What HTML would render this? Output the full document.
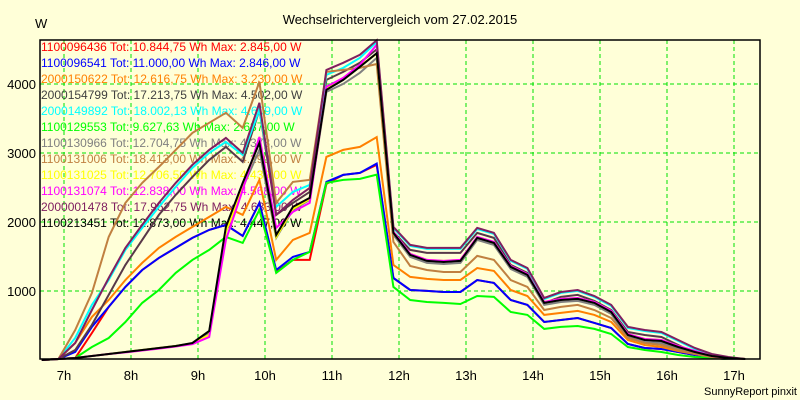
<!DOCTYPE html>
<html><head><meta charset="utf-8"><style>
body{margin:0;background:#ffffd8;}
svg{display:block;font-family:"Liberation Sans",sans-serif;}
</style></head><body>
<svg id="chart" width="800" height="400" viewBox="0 0 800 400">
<rect x="0" y="0" width="800" height="400" fill="#ffffd8"/>
<text x="400" y="24" text-anchor="middle" font-size="13" fill="#000">Wechselrichtervergleich vom 27.02.2015</text>
<text x="35" y="28" font-size="13" fill="#000">W</text>
<text x="797" y="395" text-anchor="end" font-size="11" fill="#000">SunnyReport pinxit</text>
<g id="grid"></g><g id="axes"></g><g id="legend"></g><g id="series"></g>
<rect x="40" y="40" width="720" height="319" fill="none" stroke="#000" stroke-width="1.5"/>
</svg>
<script>
const times=["06:40","06:55","07:10","07:25","07:40","07:55","08:10","08:25","08:40","08:55","09:10","09:25","09:40","09:55","10:10","10:25","10:40","10:55","11:10","11:25","11:40","11:55","12:10","12:25","12:40","12:55","13:10","13:25","13:40","13:55","14:10","14:25","14:40","14:55","15:10","15:25","15:40","15:55","16:10","16:25","16:40","16:55","17:10"];
const xTicks=[7,8,9,10,11,12,13,14,15,16,17];
const xTickLabels=["7h","8h","9h","10h","11h","12h","13h","14h","15h","16h","17h"];
const yTicks=[1000,2000,3000,4000];
const seriesNames=["1100096436","1100096541","2000150622","2000154799","2000149892","1100129553","1100130966","1100131006","1100131025","1100131074","2000001478","1100213451"];
const seriesTotals=["10.844,75","11.000,00","12.616,75","17.213,75","18.002,13","9.627,63","12.704,75","18.413,00","12.706,50","12.838,00","17.962,75","12.873,00"];
const seriesMax=["2.845,00","2.846,00","3.230,00","4.502,00","4.609,00","2.687,00","4.378,00","4.290,00","4.439,00","4.568,00","4.633,00","4.447,00"];
const seriesColors=["#ff0000","#0000ff","#ff8000","#404040","#00ffff","#00ff00","#808080","#c08040","#ffff00","#ff00ff","#802060","#000000"];
const lineColors=["#ff0000","#0000ff","#ff8000","#583848","#00ffff","#00ff00","#808080","#c08040","#ffff00","#ff00ff","#802060","#000000"];
const sRed=[0,15,29,392,769,1059,1305,1479,1624,1769,1885,1958,1798,2277,1276,1450,1450,2552,2683,2712,2828,1189,1015,1001,986,986,1160,1117,870,798,551,580,609,537,464,232,174,160,116,73,29,15,15];
const sBlue=[0,15,116,479,769,1059,1305,1479,1624,1769,1885,1958,1798,2277,1305,1494,1566,2581,2683,2712,2846,1189,1015,1001,986,986,1160,1117,870,798,551,580,609,537,464,232,174,160,116,73,29,15,15];
const sOrange=[0,15,247,624,870,1160,1407,1624,1784,1929,2074,2219,2103,2610,1450,1740,1842,2944,3045,3089,3230,1378,1204,1175,1160,1160,1334,1291,1015,928,653,682,711,653,551,290,218,189,131,87,44,29,15];
const sDarkGray=[0,15,145,508,943,1378,1740,2103,2393,2654,2900,3089,2871,3625,2103,2277,2436,4060,4176,4307,4502,1856,1595,1552,1552,1552,1842,1769,1378,1262,827,914,943,856,725,406,363,334,218,102,29,15,15];
const sCyan=[0,15,319,798,1160,1595,1914,2219,2509,2784,3002,3161,2973,3625,2219,2436,2538,4133,4234,4379,4609,1914,1653,1610,1610,1610,1899,1827,1436,1320,884,972,1001,914,783,464,421,392,276,160,73,29,15];
const sGreen=[0,15,29,189,319,551,827,1015,1262,1450,1595,1784,1697,2175,1262,1450,1566,2567,2610,2625,2687,1059,870,841,827,812,928,914,696,653,450,479,493,450,377,189,145,116,73,44,29,15,15];
const sGray=[0,15,29,58,87,116,145,174,203,240,400,1856,2494,3045,1769,2175,2320,3886,4002,4162,4378,1813,1494,1407,1392,1407,1740,1668,1320,1204,798,841,856,798,667,334,261,247,160,87,44,15,15];
const sBrown=[0,15,435,972,1784,2277,2567,2799,3045,3292,3437,3582,3364,4031,2277,2581,2610,4176,4205,4234,4290,1711,1363,1305,1276,1276,1508,1450,1160,1059,725,769,798,725,609,319,247,218,145,87,44,29,15];
const sYellow=[0,15,29,58,87,116,145,174,203,240,363,1856,2494,3190,1784,2190,2334,3930,4075,4264,4439,1856,1537,1450,1436,1450,1784,1711,1363,1247,841,885,899,841,711,377,305,290,203,131,58,29,15];
const sMagenta=[0,15,29,58,87,110,138,165,195,230,334,1740,2465,3234,1914,2146,2277,3959,4089,4278,4568,1856,1537,1450,1436,1450,1784,1711,1363,1247,841,885,899,841,711,377,305,290,203,131,58,29,15];
const sPurple=[0,15,247,725,1189,1624,1958,2277,2567,2828,3045,3219,3002,3727,2103,2320,2494,4205,4307,4423,4633,1929,1668,1624,1624,1624,1914,1842,1450,1334,899,986,1015,928,798,479,435,406,290,174,87,44,15];
const sBlack=[0,15,29,58,87,116,145,174,203,247,421,1929,2567,3147,1813,2219,2349,3915,4060,4249,4447,1842,1523,1436,1421,1436,1769,1697,1349,1233,827,870,885,827,696,363,290,276,189,116,58,29,15];
const seriesValues=[sRed,sBlue,sOrange,sDarkGray,sCyan,sGreen,sGray,sBrown,sYellow,sMagenta,sPurple,sBlack];

const NS="http://www.w3.org/2000/svg";
const PL=40,PR=760,PT=40,PB=359;
function xScale(h){return 64+(h-7)*67;}
function yScale(v){return 360-v*0.069;}
function tHours(s){const p=s.split(":");return +p[0]+(+p[1])/60;}
function mk(tag,attrs,parent){const e=document.createElementNS(NS,tag);for(const k in attrs)e.setAttribute(k,attrs[k]);parent.appendChild(e);return e;}

const grid=document.getElementById("grid"),axes=document.getElementById("axes"),legend=document.getElementById("legend"),series=document.getElementById("series");
xTicks.forEach((h,i)=>{
  const x=xScale(h);
  const gl=mk("line",{x1:x,x2:x,y1:PT,y2:PB,stroke:"#00e000","stroke-width":1,"stroke-dasharray":"4,3"},grid);
  
  
  const t=mk("text",{x:x,y:380,"text-anchor":"middle","font-size":13,fill:"#000"},axes);
  t.textContent=xTickLabels[i];
  
  
});
yTicks.forEach(v=>{
  const y=yScale(v);
  const gl=mk("line",{x1:PL,x2:PR,y1:y,y2:y,stroke:"#00e000","stroke-width":1,"stroke-dasharray":"4,3"},grid);
  
  
  const t=mk("text",{x:36,y:y+5,"text-anchor":"end","font-size":13,fill:"#000"},axes);
  t.textContent=String(v);
  
  
});
seriesNames.forEach((n,i)=>{
  const t=mk("text",{x:41,y:51+i*16,"font-size":12,fill:seriesColors[i]},legend);
  t.textContent=n+" Tot: "+seriesTotals[i]+" Wh Max: "+seriesMax[i]+" W";
  
  
});
seriesValues.forEach((vals,i)=>{
  const pts=vals.map((v,k)=>{const x=Math.max(PL,Math.min(PR,xScale(tHours(times[k]))));return x.toFixed(1)+","+yScale(v).toFixed(1);}).join(" ");
  const pl=mk("polyline",{points:pts,fill:"none",stroke:lineColors[i],"stroke-width":2,"stroke-linejoin":"miter"},series);
  
  
});
</script>
</body></html>
